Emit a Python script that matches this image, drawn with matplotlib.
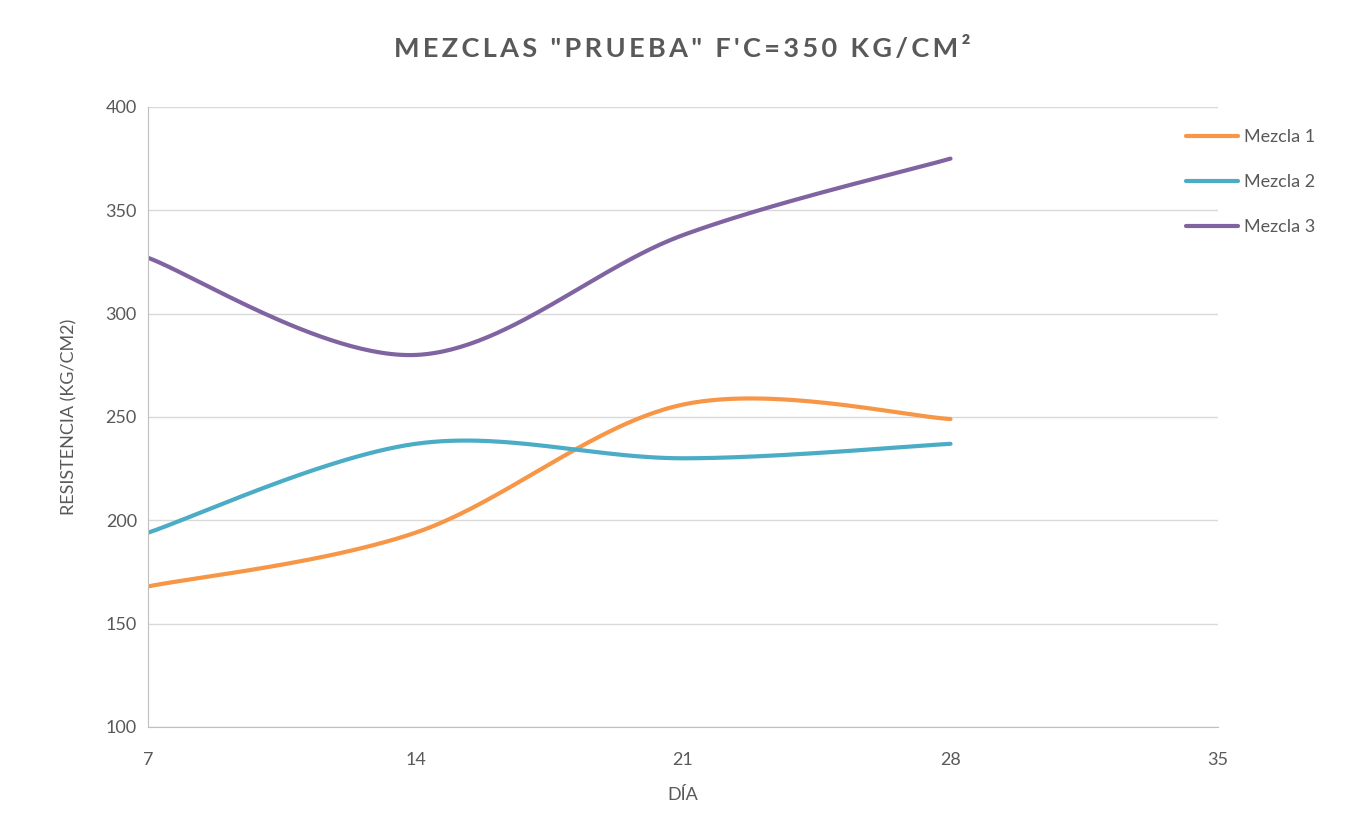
import numpy as np
import matplotlib.pyplot as plt

# data
dias = [7, 14, 21, 28]
mezcla_1 = [168, 194, 256, 249]
mezcla_2 = [194, 237, 230, 237]
mezcla_3 = [327, 280, 338, 375]
series = {'Mezcla 1': mezcla_1, 'Mezcla 2': mezcla_2, 'Mezcla 3': mezcla_3}
colores = {'Mezcla 1': '#F79646', 'Mezcla 2': '#4BACC6', 'Mezcla 3': '#8064A2'}
x_ticks = [7, 14, 21, 28, 35]
y_ticks = [100, 150, 200, 250, 300, 350, 400]


def smooth(xs, ys, n=60):
    # Excel-style smoothed line: cubic Bezier with Catmull-Rom control points
    p = np.column_stack([xs, ys]).astype(float)
    p = np.vstack([p[0], p, p[-1]])
    out = []
    t = np.linspace(0, 1, n)[:, None]
    for i in range(1, len(p) - 2):
        p0, p1, p2, p3 = p[i - 1], p[i], p[i + 1], p[i + 2]
        c1 = p1 + (p2 - p0) / 6
        c2 = p2 - (p3 - p1) / 6
        seg = ((1 - t) ** 3) * p1 + 3 * ((1 - t) ** 2) * t * c1 + 3 * (1 - t) * t ** 2 * c2 + t ** 3 * p2
        out.append(seg)
    out = np.vstack(out)
    return out[:, 0], out[:, 1]


plt.rcParams['font.family'] = ['Lato', 'DejaVu Sans']
gris = '#595959'

fig = plt.figure(figsize=(13.67, 8.17), dpi=100)
ax = fig.add_axes([0.1083, 0.1102, 0.7827, 0.7589])

for nombre, vals in series.items():
    sx, sy = smooth(dias, vals)
    ax.plot(sx, sy, color=colores[nombre], linewidth=3, label=nombre, solid_capstyle='round')

ax.set_xlim(7, 35)
ax.set_ylim(100, 400)
ax.set_xticks(x_ticks)
ax.set_yticks(y_ticks)
ax.grid(axis='y', color='#D9D9D9', linewidth=1)
ax.set_axisbelow(True)
for s in ['top', 'right']:
    ax.spines[s].set_visible(False)
ax.spines['left'].set_color('#BFBFBF')
ax.spines['bottom'].set_color('#BFBFBF')
ax.tick_params(length=0, colors=gris, labelsize=13)
ax.tick_params(axis='y', pad=8)
ax.tick_params(axis='x', pad=18)

ax.set_xlabel('DÍA', color=gris, fontsize=13, labelpad=14)
ax.set_ylabel('RESISTENCIA (KG/CM2)', color=gris, fontsize=13, labelpad=20)
titulo = 'MEZCLAS "PRUEBA" F\'C=350 KG/CM²'
fig.suptitle('\u2009'.join(titulo), x=0.499, y=0.955, fontsize=19.5,
             fontweight='bold', color=gris)

ax.legend(loc='upper left', bbox_to_anchor=(0.955, 0.99), frameon=False,
          fontsize=13, labelcolor=gris, handlelength=2.9, handletextpad=0.3,
          labelspacing=1.6)

fig.savefig('out.png', dpi=100)
